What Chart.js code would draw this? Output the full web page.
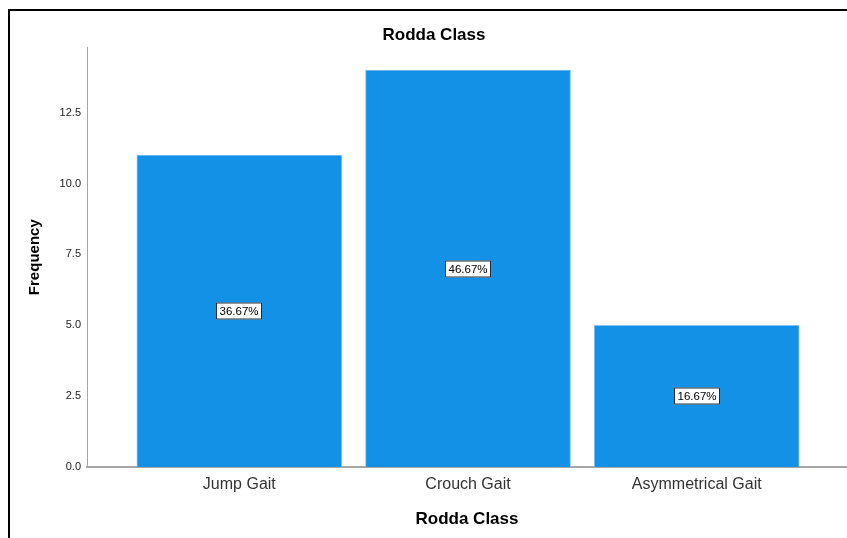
<!DOCTYPE html>
<html>
<head>
<meta charset="utf-8">
<script src="https://cdn.jsdelivr.net/npm/chart.js@4"></script>
<style>
  html, body { margin: 0; padding: 0; background: #fff; }
  #wrap { position: relative; width: 847px; height: 538px; overflow: hidden; }
  #frame { position: absolute; left: 8px; top: 9px; width: 900px; height: 600px;
           border-left: 2px solid #000; border-top: 2px solid #000; }
  #chart { position: absolute; left: 0; top: 0; }
</style>
</head>
<body>
<div id="wrap">
  <div id="frame"></div>
  <canvas id="chart" width="847" height="538"></canvas>
</div>
<script>
// ========================
// DATA
// ========================
const categories = ["Jump Gait", "Crouch Gait", "Asymmetrical Gait"];
const frequency = [11, 14, 5];
const yTicks = [0, 2.5, 5, 7.5, 10, 12.5];

const total = frequency.reduce((a, b) => a + b, 0);
const percentLabels = frequency.map((v) => ((v / total) * 100).toFixed(2) + "%");

const FONT = "Arial, 'Liberation Sans', sans-serif";

// ========================
// PERCENT BOXES
// ========================
const percentBoxes = {
  id: "percentBoxes",
  afterDatasetsDraw(chart) {
    const ctx = chart.ctx;
    const yScale = chart.scales.y;
    const meta = chart.getDatasetMeta(0);
    ctx.save();
    ctx.font = "11.5px " + FONT;
    ctx.textAlign = "center";
    ctx.textBaseline = "middle";
    meta.data.forEach((bar, i) => {
      const cx = Math.round(bar.x);
      const cy = Math.round(yScale.getPixelForValue(frequency[i] / 2));
      const text = percentLabels[i];
      const w = Math.ceil(ctx.measureText(text).width) + 6;
      const h = 17;
      ctx.fillStyle = "#ffffff";
      ctx.fillRect(cx - w / 2, cy - h / 2, w, h);
      ctx.strokeStyle = "#1e2d3d";
      ctx.lineWidth = 1;
      ctx.strokeRect(cx - w / 2 + 0.5, cy - h / 2 + 0.5, w - 1, h - 1);
      ctx.fillStyle = "#000";
      ctx.fillText(text, cx, cy + 1);
    });
    ctx.restore();
  },
};

// ========================
// CHART
// ========================
new Chart(document.getElementById("chart"), {
  type: "bar",
  data: {
    datasets: [
      {
        label: "Frequency",
        data: frequency.map((v, i) => ({ x: i + 1, y: v })),
        backgroundColor: "#1391e6",
        borderColor: "#86c4f1",
        borderWidth: 1,
        borderSkipped: "bottom",
        barThickness: 205,
      },
    ],
  },
  options: {
    responsive: false,
    animation: false,
    layout: { padding: { left: 20, top: 11, right: -1, bottom: 0 } },
    plugins: {
      legend: { display: false },
      tooltip: { enabled: false },
      title: {
        display: true,
        text: "Rodda Class",
        color: "#000",
        font: { family: FONT, size: 17, weight: "bold", lineHeight: 1.2 },
        padding: { top: 14, bottom: 2 },
      },
    },
    scales: {
      x: {
        type: "linear",
        offset: false,
        min: 0.334,
        max: 3.657,
        afterBuildTicks: (s) => { s.ticks = categories.map((c, i) => ({ value: i + 1 })); },
        afterFit: (s) => { s.height = 71; },
        grid: { display: false, drawTicks: false, offset: false },
        border: { display: true, color: "#a6a6a6", width: 2 },
        ticks: {
          callback: (v) => categories[v - 1] || "",
          color: "#333",
          font: { family: FONT, size: 16 },
          padding: 8,
          maxRotation: 0,
          autoSkip: false,
        },
        title: {
          display: true,
          text: "Rodda Class",
          color: "#000",
          font: { family: FONT, size: 17, weight: "bold", lineHeight: 1.2 },
          padding: { top: 0, bottom: 8 },
        },
      },
      y: {
        min: 0,
        max: 14.8,
        afterBuildTicks: (s) => { s.ticks = yTicks.map((v) => ({ value: v })); },
        afterFit: (s) => { s.width = 67; },
        grid: { display: false, drawTicks: false },
        border: { display: true, color: "#a6a6a6", width: 1 },
        ticks: {
          callback: (v) => v.toFixed(1),
          color: "#222",
          font: { family: FONT, size: 11 },
          padding: 6,
        },
        title: {
          display: true,
          text: "Frequency",
          color: "#000",
          font: { family: FONT, size: 15, weight: "bold", lineHeight: 1.2 },
          padding: { top: 6, bottom: 0 },
        },
      },
    },
  },
  plugins: [percentBoxes],
});
</script>
</body>
</html>
